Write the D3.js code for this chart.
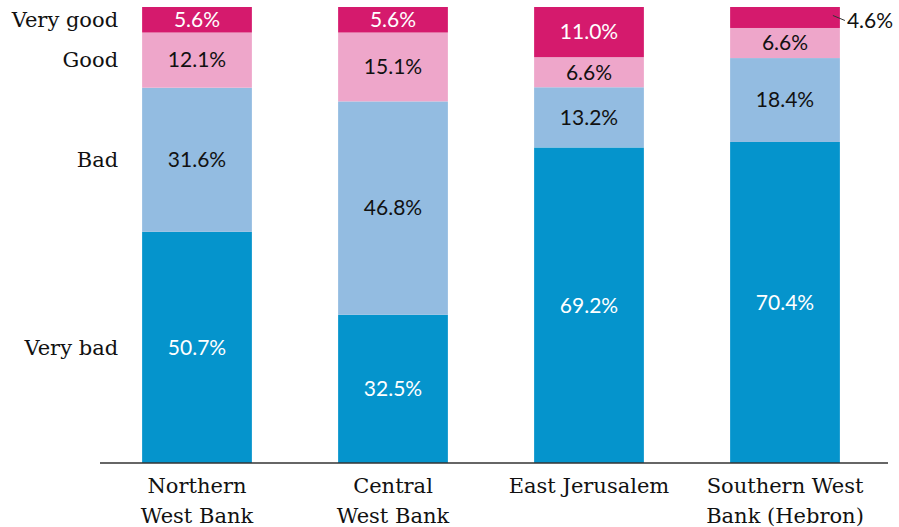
<!DOCTYPE html>
<meta charset="utf-8">
<html>
  <head>
    <script src="https://d3js.org/d3.v7.min.js"></script>
    <style>
      body { margin: 0; background: #fff; }
    </style>
  </head>
  <body>
    <div id="chart"></div>

    <script type="text/javascript">
      var regions = [["Northern", "West Bank"], ["Central", "West Bank"], ["East Jerusalem"], ["Southern West", "Bank (Hebron)"]],
          levels = ["Very bad", "Bad", "Good", "Very good"],
          veryBad  = [50.7, 32.5, 69.2, 70.4],
          bad      = [31.6, 46.8, 13.2, 18.4],
          good     = [12.1, 15.1, 6.6, 6.6],
          veryGood = [5.6, 5.6, 11.0, 4.6];

      var colors = ["#0594cc", "#93bce1", "#eea6ca", "#d51a6d"],
          textColors = ["#fff", "#111", "#111", "#fff"];

      var chartW = 899, chartH = 527,
          topY = 7, baseline = 463;

      var rows = regions.map(function (r, i) {
        return { key: i, "Very bad": veryBad[i], "Bad": bad[i], "Good": good[i], "Very good": veryGood[i] };
      });
      var series = d3.stack().keys(levels)(rows);

      var x = d3.scaleBand()
          .domain(d3.range(regions.length))
          .range([99, 883])
          .paddingInner(0.44)
          .paddingOuter(0.22);

      var y = d3.scaleLinear()
          .domain([0, 100])
          .range([baseline, topY]);

      var svg = d3.select("#chart").append("svg")
          .attr("width", chartW)
          .attr("height", chartH);

      var layers = svg.selectAll(".layer")
          .data(series)
          .enter().append("g")
            .attr("class", "layer")
            .style("fill", function (d, i) { return colors[i]; });

      layers.selectAll("rect")
          .data(function (d) { return d; })
          .enter().append("rect")
            .attr("x", function (d, i) { return x(i); })
            .attr("y", function (d) { return y(d[1]); })
            .attr("width", x.bandwidth())
            .attr("height", function (d) { return y(d[0]) - y(d[1]); });

      // value labels; small last slice goes outside with a leader
      series.forEach(function (s, li) {
        s.forEach(function (d, i) {
          var v = d[1] - d[0],
              cx = x(i) + x.bandwidth() / 2,
              cy = (y(d[0]) + y(d[1])) / 2,
              outside = v < 5;
          if (outside) {
            svg.append("line")
                .attr("x1", x(i) + x.bandwidth() - 7).attr("y1", cy - 2)
                .attr("x2", x(i) + x.bandwidth() + 5).attr("y2", cy + 3)
                .style("stroke", "#333").style("stroke-width", 1);
          }
          svg.append("text")
              .text(v.toFixed(1) + "%")
              .attr("x", outside ? x(i) + x.bandwidth() + 7 : cx)
              .attr("y", outside ? cy + 3 : cy)
              .attr("dy", "0.35em")
              .style("text-anchor", outside ? "start" : "middle")
              .style("font-family", "Lato, 'Open Sans', sans-serif")
              .style("font-size", "21px")
              .style("fill", outside ? "#111" : textColors[li]);
        });
      });

      // level labels beside the first bar
      svg.selectAll(".levelLabel")
          .data(series)
          .enter().append("text")
            .attr("class", "levelLabel")
            .text(function (d) { return d.key; })
            .attr("x", x(0) - 24)
            .attr("y", function (d) { return (y(d[0][0]) + y(d[0][1])) / 2; })
            .attr("dy", "0.35em")
            .style("text-anchor", "end")
            .style("font-family", "'DejaVu Serif', serif")
            .style("font-size", "21px")
            .style("fill", "#111");

      svg.append("line")
          .attr("x1", 100).attr("x2", 888)
          .attr("y1", baseline).attr("y2", baseline)
          .style("stroke", "#333")
          .style("stroke-width", 1.5);

      var catLabels = svg.selectAll(".catLabel")
          .data(regions)
          .enter().append("text")
            .attr("class", "catLabel")
            .attr("x", function (d, i) { return x(i) + x.bandwidth() / 2; })
            .attr("y", 486)
            .style("text-anchor", "middle")
            .style("font-family", "'DejaVu Serif', serif")
            .style("font-size", "21px")
            .style("fill", "#111");

      catLabels.selectAll("tspan")
          .data(function (d) { return d; })
          .enter().append("tspan")
            .attr("x", function () { return this.parentNode.getAttribute("x"); })
            .attr("dy", function (d, i) { return i == 0 ? "0.35em" : "30px"; })
            .text(function (d) { return d; });
    </script>
  </body>
</html>
